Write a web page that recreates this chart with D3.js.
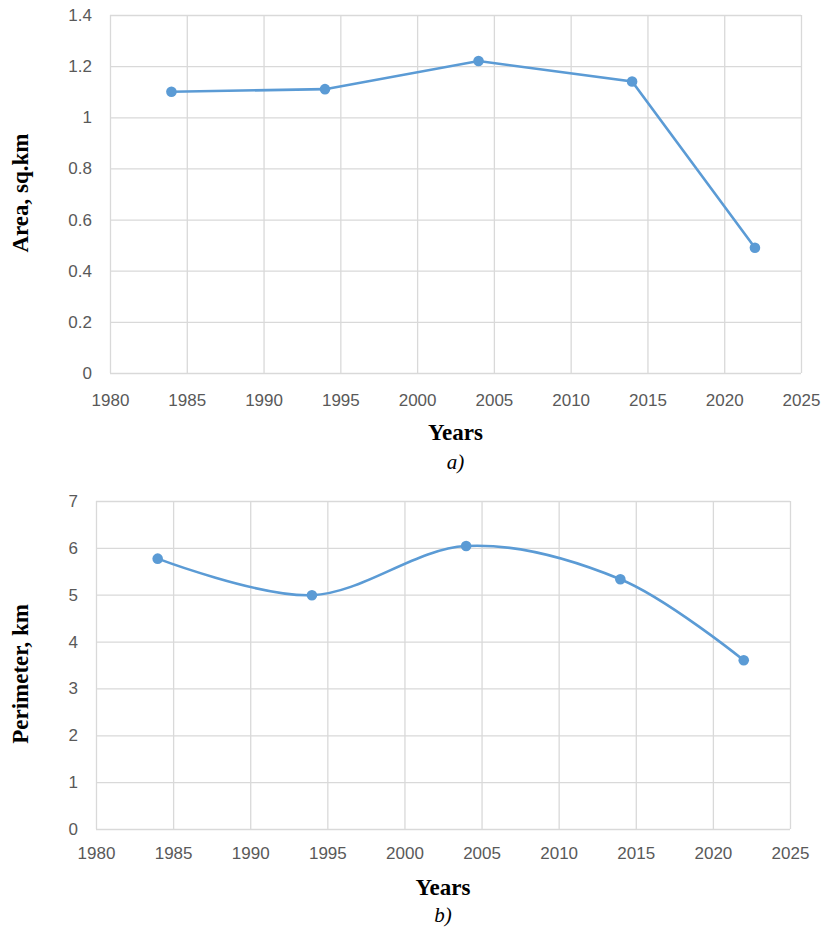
<!DOCTYPE html>
<html>
<head>
<meta charset="utf-8">
<script src="https://cdn.jsdelivr.net/npm/d3@7"></script>
<style>
  body { margin: 0; background: #fff; }
  .tick text { font-family: "Liberation Sans", Arial, sans-serif; font-size: 17px; fill: #595959; }
  .grid line { stroke: #d9d9d9; stroke-width: 1.3; }
  .grid path { display: none; }
  .ttl { font-family: "Liberation Serif", "Times New Roman", serif; font-weight: bold; font-size: 23px; fill: #000; }
  .sub { font-family: "Liberation Serif", "Times New Roman", serif; font-style: italic; font-size: 21px; fill: #000; }
</style>
</head>
<body>
<svg id="chart" width="822" height="930"></svg>
<script>
var years = [1984, 1994, 2004, 2014, 2022];
var area = [1.1, 1.11, 1.22, 1.14, 0.49];
var perimeter = [5.77, 4.99, 6.04, 5.33, 3.6];
var xTicks = [1980, 1985, 1990, 1995, 2000, 2005, 2010, 2015, 2020, 2025];
var areaTicks = [0, 0.2, 0.4, 0.6, 0.8, 1, 1.2, 1.4];
var perimTicks = [0, 1, 2, 3, 4, 5, 6, 7];

var svg = d3.select("#chart");

function drawPanel(opts) {
  var x = d3.scaleLinear().domain([1980, 2025]).range([opts.left, opts.right]);
  var y = d3.scaleLinear().domain([0, opts.yMax]).range([opts.bottom, opts.top]);
  var g = svg.append("g");

  // gridlines
  g.append("g").attr("class", "grid")
    .attr("transform", "translate(0," + opts.bottom + ")")
    .call(d3.axisBottom(x).tickValues(xTicks).tickSize(-(opts.bottom - opts.top)).tickFormat(""));
  g.append("g").attr("class", "grid")
    .attr("transform", "translate(" + opts.left + ",0)")
    .call(d3.axisLeft(y).tickValues(opts.yTicks).tickSize(-(opts.right - opts.left)).tickFormat(""));

  // tick labels
  var xa = g.append("g")
    .attr("transform", "translate(0," + opts.bottom + ")")
    .call(d3.axisBottom(x).tickValues(xTicks).tickSize(0).tickPadding(opts.xPad).tickFormat(d3.format("d")));
  xa.select(".domain").remove();
  var ya = g.append("g")
    .attr("transform", "translate(" + opts.left + ",0)")
    .call(d3.axisLeft(y).tickValues(opts.yTicks).tickSize(0).tickPadding(opts.yPad).tickFormat(function(d) { return String(d); }));
  ya.select(".domain").remove();

  var pts = years.map(function(yr, i) { return [x(yr), y(opts.values[i])]; });
  g.append("path")
    .attr("d", d3.line().curve(opts.curve)(pts))
    .attr("fill", "none")
    .attr("stroke", "#5b9bd5")
    .attr("stroke-width", 2.6);
  g.selectAll("circle").data(pts).enter().append("circle")
    .attr("cx", function(d) { return d[0]; })
    .attr("cy", function(d) { return d[1]; })
    .attr("r", 5.3)
    .attr("fill", "#5b9bd5");

  var cx = (opts.left + opts.right) / 2;
  g.append("text").attr("class", "ttl").attr("x", cx).attr("y", opts.xTitleY)
    .attr("text-anchor", "middle").text("Years");
  g.append("text").attr("class", "sub").attr("x", cx).attr("y", opts.subY)
    .attr("text-anchor", "middle").text(opts.sub);
  g.append("text").attr("class", "ttl")
    .attr("transform", "translate(" + opts.yTitleX + "," + opts.yTitleMid + ") rotate(-90)")
    .attr("text-anchor", "middle").text(opts.yTitle);
}

drawPanel({
  left: 110, right: 801, top: 15, bottom: 373,
  yMax: 1.4, yTicks: areaTicks, values: area,
  curve: d3.curveLinear, xPad: 21, yPad: 18,
  xTitleY: 440, subY: 469, sub: "a)", yTitleX: 28, yTitleMid: 193, yTitle: "Area, sq.km"
});

drawPanel({
  left: 96, right: 790, top: 501, bottom: 829,
  yMax: 7, yTicks: perimTicks, values: perimeter,
  curve: d3.curveCatmullRom.alpha(0), xPad: 18, yPad: 18,
  xTitleY: 895, subY: 922, sub: "b)", yTitleX: 28, yTitleMid: 674, yTitle: "Perimeter, km"
});
</script>
</body>
</html>
